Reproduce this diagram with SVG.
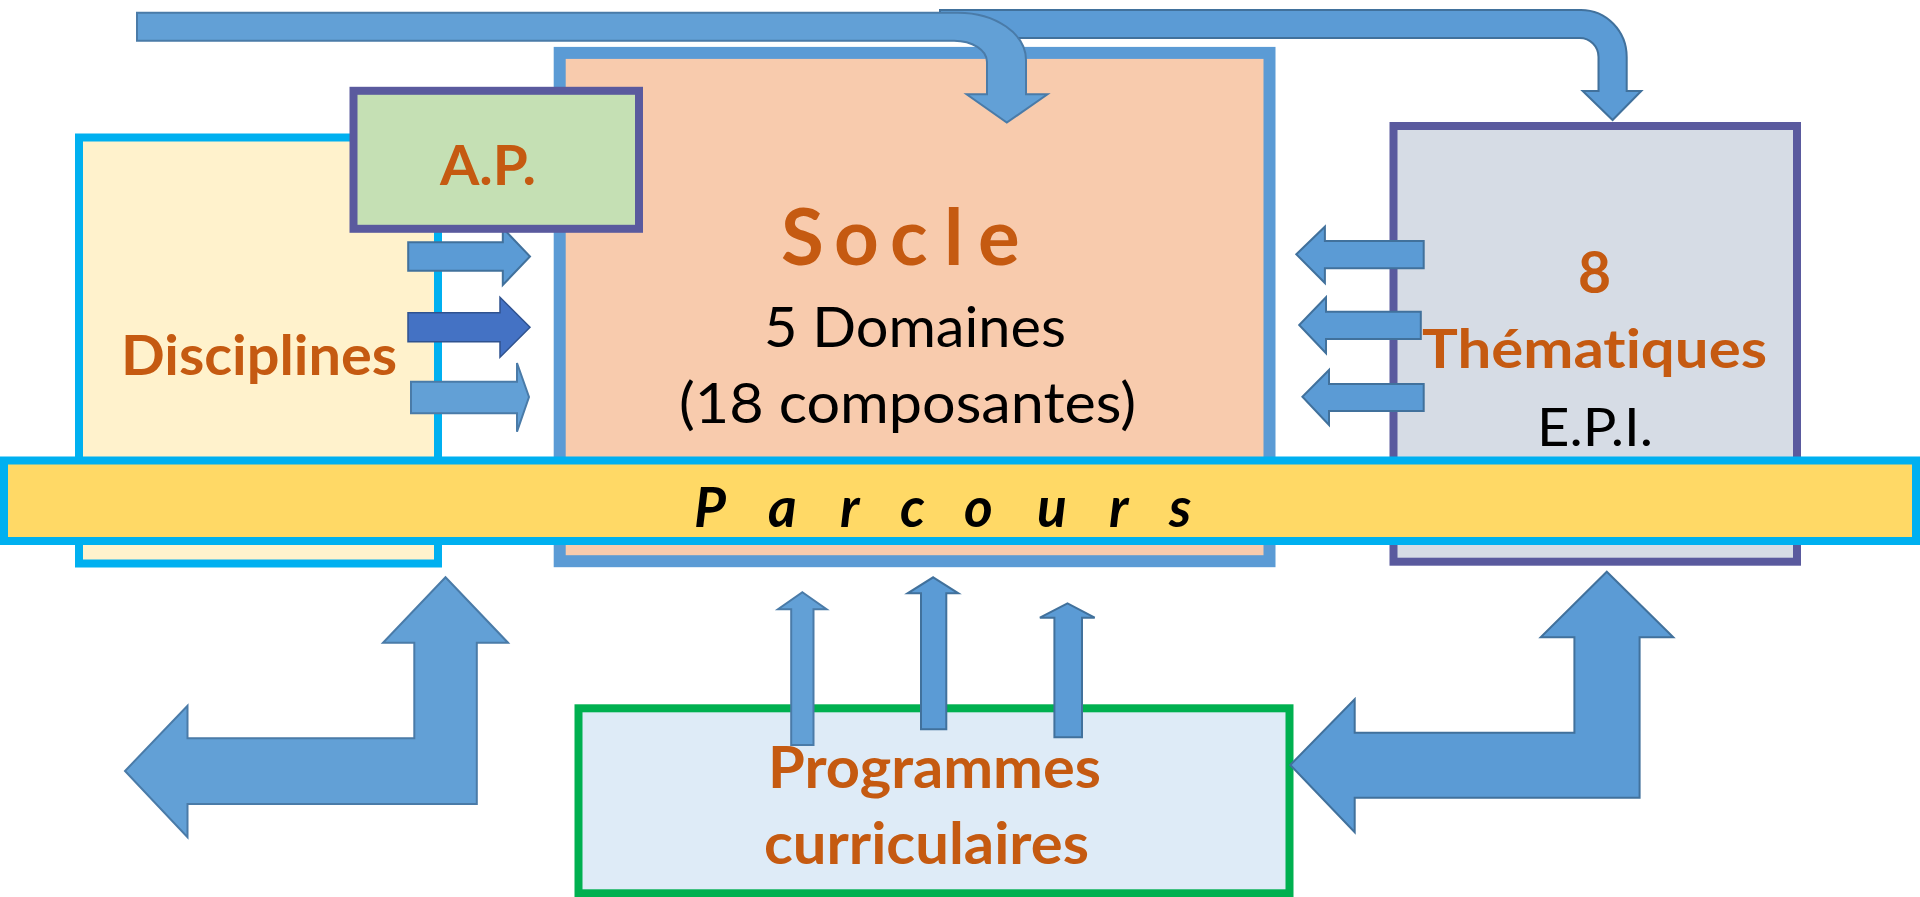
<svg xmlns="http://www.w3.org/2000/svg" width="1920" height="897" viewBox="0 0 1920 897">
<style>
.arr{fill:#5B9BD5;stroke:#41719C;stroke-width:2;stroke-linejoin:miter}
.arrl{fill:#62A0D6;stroke:#4A7BA8;stroke-width:2}
.arrd{fill:#4472C4;stroke:#2F528F;stroke-width:1.5}
.t{font-family:Lato,Carlito,"Liberation Sans",sans-serif;font-variant-ligatures:none;font-feature-settings:"liga" 0,"clig" 0}
.or{fill:#C55A11;font-weight:bold}
.bk{fill:#000000}
</style>
<rect width="1920" height="897" fill="#FFFFFF"/>

<g id="disciplines">
<rect x="79" y="137.5" width="359" height="426" fill="#FFF2CC" stroke="#00B0F0" stroke-width="8"/>
<text class="t or" x="121" y="375" font-size="56" textLength="276" lengthAdjust="spacingAndGlyphs">Disciplines</text>
</g>

<g id="socle">
<rect x="559.7" y="52.9" width="709.8" height="508.3" fill="#F8CBAD" stroke="#5B9BD5" stroke-width="12"/>
<text class="t or" x="781 834 890 944 978" y="265" font-size="78">Socle</text>
<text class="t bk" x="764" y="346.5" font-size="56" textLength="302" lengthAdjust="spacingAndGlyphs">5 Domaines</text>
<text class="t bk" x="679" y="423.3" font-size="56" textLength="457" lengthAdjust="spacingAndGlyphs">(18 composantes)</text>
</g>

<g id="thematiques">
<rect x="1393.5" y="126" width="403.5" height="435.7" fill="#D6DCE5" stroke="#5A5A9E" stroke-width="8"/>
<text class="t or" x="1578" y="292.7" font-size="57">8</text>
<text class="t or" x="1422" y="368.3" font-size="54" textLength="345" lengthAdjust="spacingAndGlyphs">Thématiques</text>
<text class="t bk" x="1537" y="445.7" font-size="53" textLength="116" lengthAdjust="spacingAndGlyphs">E.P.I.</text>
</g>

<g id="connectors">
<path class="arr" d="M940,10 L1581,10 A45.7,47 0 0 1 1626.7,57 L1626.7,91 L1641.3,91 L1612.6,120 L1582.7,91 L1598.5,91 L1598.5,57 A18.8,19 0 0 0 1579.7,38 L940,38 Z"/>
<path class="arrl" d="M137,12.7 L958,12.7 A68,47.3 0 0 1 1026,60 L1026,94.3 L1047.5,94.3 L1006.8,122.6 L966.6,94.3 L987,94.3 L987,62 A33,21.3 0 0 0 954,40.7 L137,40.7 Z"/>
<path class="arr" d="M408.2,242.3 L502.8,242.3 L502.8,228 L530,256.5 L502.8,285 L502.8,270.7 L408.2,270.7 Z"/>
<path class="arrd" d="M408,312.7 L500,312.7 L500,297.3 L530,327.3 L500,357.3 L500,341.7 L408,341.7 Z"/>
<path class="arrl" d="M411,381.7 L517,381.7 L517,363 L529,397 L517,431.7 L517,413.3 L411,413.3 Z"/>
<path class="arr" d="M1423.7,241 L1324.9,241 L1324.9,226.7 L1296.3,254.3 L1324.9,283 L1324.9,268.3 L1423.7,268.3 Z"/>
<path class="arr" d="M1420.8,311.7 L1326,311.7 L1326,297.3 L1299.2,325 L1326,353.3 L1326,339 L1420.8,339 Z"/>
<path class="arr" d="M1423.7,384 L1329,384 L1329,370 L1302.4,396.7 L1329,425 L1329,411 L1423.7,411 Z"/>
</g>

<g id="ap">
<rect x="353.5" y="90.8" width="285.5" height="138" fill="#C5E0B4" stroke="#5A5A9E" stroke-width="8"/>
<text class="t or" x="440" y="185" font-size="56" textLength="96" lengthAdjust="spacingAndGlyphs">A.P.</text>
</g>

<g id="parcours">
<rect x="4" y="460.5" width="1912" height="80.5" fill="#FFD966" stroke="#00B0F0" stroke-width="8"/>
<text class="t bk" x="694 768 840 900 964 1037 1109 1169" y="527" font-size="55" font-weight="bold" font-style="italic">Parcours</text>
</g>

<g id="programmes">
<rect x="578.5" y="708.3" width="711" height="185" fill="#DEEBF7" stroke="#00B050" stroke-width="8"/>
<text class="t or" x="768" y="788.3" font-size="57" textLength="333" lengthAdjust="spacingAndGlyphs">Programmes</text>
<text class="t or" x="764" y="864" font-size="57" textLength="325" lengthAdjust="spacingAndGlyphs">curriculaires</text>
</g>

<g id="connectors-bottom">
<path class="arrl" d="M445.5,577.3 L508,642.7 L476.8,642.7 L476.8,804 L187.5,804 L187.5,837.3 L125,771 L187.5,705.7 L187.5,738.3 L414.3,738.3 L414.3,642.7 L383,642.7 Z"/>
<path class="arr" d="M1606.8,571.7 L1673.3,637.3 L1639.6,637.3 L1639.6,797.7 L1354.7,797.7 L1354.7,832.3 L1290.3,765 L1354.7,699.3 L1354.7,732.7 L1574.4,732.7 L1574.4,637.3 L1540.7,637.3 Z"/>
<path class="arrl" d="M802.4,592.3 L826.6,609.3 L813.5,609.3 L813.5,745 L791.2,745 L791.2,609.3 L778,609.3 Z"/>
<path class="arr" d="M933.2,577.3 L958.4,593.3 L946.3,593.3 L946.3,729.3 L921,729.3 L921,593.3 L907.6,593.3 Z"/>
<path class="arr" d="M1067.5,603.3 L1094.7,617.7 L1082,617.7 L1082,737.3 L1054.4,737.3 L1054.4,617.7 L1039.9,617.7 Z"/>
</g>
</svg>
